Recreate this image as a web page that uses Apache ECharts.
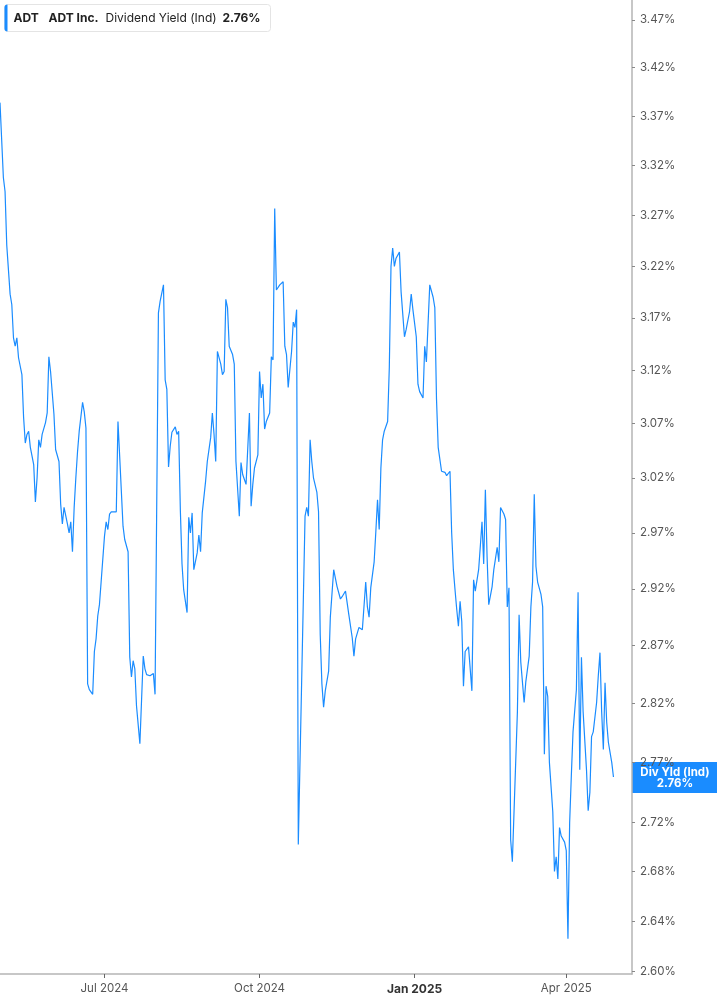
<!DOCTYPE html>
<html>
<head>
<meta charset="utf-8">
<script src="https://cdn.jsdelivr.net/npm/echarts@6/dist/echarts.min.js"></script>
<style>
  html, body { margin: 0; padding: 0; background: #fff; }
  #chart-container { width: 717px; height: 1005px; }
</style>
</head>
<body>
<div id="chart-container"></div>
<script>
// ADT Inc. indicated dividend yield (%)
const dates = [
  '2024-04-30','2024-05-01','2024-05-02','2024-05-03','2024-05-04','2024-05-06','2024-05-07','2024-05-08','2024-05-09','2024-05-10',
  '2024-05-11','2024-05-13','2024-05-14','2024-05-15','2024-05-16','2024-05-17','2024-05-18','2024-05-20','2024-05-21','2024-05-22',
  '2024-05-23','2024-05-24','2024-05-25','2024-05-27','2024-05-28','2024-05-29','2024-05-30','2024-06-01','2024-06-02','2024-06-04',
  '2024-06-05','2024-06-06','2024-06-07','2024-06-09','2024-06-10','2024-06-11','2024-06-12','2024-06-13','2024-06-14','2024-06-15',
  '2024-06-16','2024-06-18','2024-06-19','2024-06-20','2024-06-21','2024-06-22','2024-06-24','2024-06-25','2024-06-26','2024-06-27',
  '2024-06-28','2024-06-29','2024-07-01','2024-07-02','2024-07-03','2024-07-04','2024-07-05','2024-07-08','2024-07-09','2024-07-10',
  '2024-07-12','2024-07-13','2024-07-15','2024-07-16','2024-07-17','2024-07-18','2024-07-19','2024-07-20','2024-07-22','2024-07-24',
  '2024-07-25','2024-07-26','2024-07-28','2024-07-29','2024-07-30','2024-07-31','2024-08-02','2024-08-03','2024-08-05','2024-08-06',
  '2024-08-07','2024-08-08','2024-08-09','2024-08-10','2024-08-12','2024-08-13','2024-08-14','2024-08-15','2024-08-16','2024-08-17',
  '2024-08-19','2024-08-20','2024-08-21','2024-08-22','2024-08-23','2024-08-25','2024-08-26','2024-08-27','2024-08-28','2024-08-29',
  '2024-08-30','2024-08-31','2024-09-02','2024-09-03','2024-09-04','2024-09-05','2024-09-06','2024-09-08','2024-09-09','2024-09-10',
  '2024-09-11','2024-09-12','2024-09-13','2024-09-15','2024-09-16','2024-09-17','2024-09-19','2024-09-20','2024-09-21','2024-09-23',
  '2024-09-25','2024-09-26','2024-09-27','2024-09-28','2024-09-30','2024-10-01','2024-10-02','2024-10-03','2024-10-04','2024-10-05',
  '2024-10-07','2024-10-08','2024-10-09','2024-10-10','2024-10-11','2024-10-13','2024-10-15','2024-10-16','2024-10-17','2024-10-18',
  '2024-10-20','2024-10-21','2024-10-22','2024-10-23','2024-10-24','2024-10-28','2024-10-29','2024-10-30','2024-10-31','2024-11-01',
  '2024-11-02','2024-11-04','2024-11-05','2024-11-06','2024-11-07','2024-11-08','2024-11-09','2024-11-11','2024-11-12','2024-11-13',
  '2024-11-14','2024-11-15','2024-11-16','2024-11-18','2024-11-19','2024-11-20','2024-11-21','2024-11-22','2024-11-23','2024-11-25',
  '2024-11-26','2024-11-27','2024-11-29','2024-12-01','2024-12-02','2024-12-03','2024-12-04','2024-12-05','2024-12-06','2024-12-08',
  '2024-12-09','2024-12-10','2024-12-11','2024-12-12','2024-12-13','2024-12-14','2024-12-16','2024-12-17','2024-12-18','2024-12-19',
  '2024-12-20','2024-12-21','2024-12-23','2024-12-24','2024-12-26','2024-12-27','2024-12-29','2024-12-30','2024-12-31','2025-01-02',
  '2025-01-03','2025-01-04','2025-01-06','2025-01-07','2025-01-08','2025-01-10','2025-01-12','2025-01-13','2025-01-14','2025-01-15',
  '2025-01-16','2025-01-17','2025-01-19','2025-01-20','2025-01-21','2025-01-22','2025-01-23','2025-01-24','2025-01-25','2025-01-26',
  '2025-01-27','2025-01-28','2025-01-29','2025-01-30','2025-01-31','2025-02-02','2025-02-03','2025-02-04','2025-02-05','2025-02-06',
  '2025-02-07','2025-02-08','2025-02-09','2025-02-10','2025-02-11','2025-02-12','2025-02-13','2025-02-14','2025-02-16','2025-02-17',
  '2025-02-19','2025-02-20','2025-02-21','2025-02-23','2025-02-24','2025-02-25','2025-02-26','2025-02-27','2025-02-28','2025-03-01',
  '2025-03-03','2025-03-04','2025-03-05','2025-03-06','2025-03-07','2025-03-08','2025-03-10','2025-03-11','2025-03-12','2025-03-13',
  '2025-03-14','2025-03-15','2025-03-17','2025-03-18','2025-03-19','2025-03-20','2025-03-21','2025-03-22','2025-03-24','2025-03-25',
  '2025-03-26','2025-03-27','2025-03-28','2025-03-29','2025-03-31','2025-04-01','2025-04-02','2025-04-03','2025-04-04','2025-04-05',
  '2025-04-07','2025-04-08','2025-04-09','2025-04-10','2025-04-11','2025-04-13','2025-04-14','2025-04-15','2025-04-16','2025-04-17',
  '2025-04-19','2025-04-20','2025-04-21','2025-04-22','2025-04-23','2025-04-24','2025-04-25','2025-04-26','2025-04-28','2025-04-29'
];

const yields = [
  3.384, 3.384, 3.308, 3.294, 3.241, 3.193, 3.183, 3.151, 3.143, 3.151,
  3.132, 3.116, 3.076, 3.052, 3.060, 3.063, 3.048, 3.032, 2.998, 3.020,
  3.055, 3.048, 3.060, 3.071, 3.080, 3.133, 3.119, 3.079, 3.046, 3.035,
  2.996, 2.978, 2.993, 2.978, 2.970, 2.980, 2.953, 2.993, 3.020, 3.044,
  3.063, 3.090, 3.081, 3.066, 2.837, 2.832, 2.828, 2.865, 2.876, 2.896,
  2.906, 2.926, 2.967, 2.980, 2.973, 2.987, 2.989, 2.989, 3.072, 3.040,
  2.976, 2.964, 2.953, 2.860, 2.843, 2.857, 2.850, 2.818, 2.786, 2.861,
  2.850, 2.845, 2.844, 2.843, 2.846, 2.828, 3.175, 3.186, 3.202, 3.111,
  3.102, 3.030, 3.049, 3.062, 3.067, 3.060, 3.063, 2.991, 2.942, 2.919,
  2.899, 2.984, 2.970, 2.988, 2.937, 2.952, 2.968, 2.953, 2.988, 2.989,
  3.017, 3.035, 3.057, 3.080, 3.060, 3.035, 3.138, 3.126, 3.116, 3.119,
  3.188, 3.180, 3.143, 3.135, 3.126, 3.035, 2.985, 3.034, 3.023, 3.014,
  3.080, 2.994, 3.014, 3.029, 3.041, 3.119, 3.094, 3.107, 3.065, 3.072,
  3.080, 3.133, 3.130, 3.277, 3.197, 3.202, 3.205, 3.143, 3.135, 3.104,
  3.138, 3.166, 3.161, 3.178, 2.702, 2.985, 2.993, 2.985, 3.055, 3.035,
  3.020, 3.007, 2.989, 2.880, 2.837, 2.817, 2.831, 2.848, 2.895, 2.895,
  2.937, 2.937, 2.922, 2.911, 2.913, 2.913, 2.918, 2.918, 2.897, 2.877,
  2.861, 2.876, 2.886, 2.884, 2.883, 2.926, 2.904, 2.895, 2.921, 2.944,
  2.971, 3.000, 2.973, 3.029, 3.055, 3.063, 3.072, 3.123, 3.220, 3.238,
  3.220, 3.228, 3.234, 3.195, 3.152, 3.159, 3.176, 3.193, 3.178, 3.152,
  3.107, 3.100, 3.094, 3.143, 3.128, 3.202, 3.190, 3.180, 3.093, 3.048,
  3.047, 3.026, 3.025, 3.022, 3.022, 3.026, 2.970, 2.937, 2.919, 2.902,
  2.887, 2.909, 2.891, 2.835, 2.865, 2.869, 2.869, 2.831, 2.928, 2.918,
  2.918, 2.937, 2.958, 2.980, 2.942, 3.009, 2.949, 2.906, 2.922, 2.937,
  2.957, 2.944, 2.993, 2.987, 2.982, 2.904, 2.921, 2.706, 2.688, 2.729,
  2.813, 2.897, 2.856, 2.856, 2.821, 2.839, 2.861, 2.904, 2.926, 3.005,
  2.940, 2.926, 2.915, 2.904, 2.777, 2.835, 2.826, 2.770, 2.729, 2.680,
  2.692, 2.674, 2.716, 2.709, 2.704, 2.697, 2.626, 2.720, 2.759, 2.796,
  2.832, 2.917, 2.764, 2.860, 2.813, 2.764, 2.730, 2.745, 2.792, 2.796,
  2.821, 2.844, 2.864, 2.813, 2.781, 2.838, 2.804, 2.787, 2.770, 2.758
];

// log-spaced tick labels on the right axis
const yTicks = [2.60, 2.64, 2.68, 2.72, 2.77, 2.82, 2.87, 2.92, 2.97, 3.02,
  3.07, 3.12, 3.17, 3.22, 3.27, 3.32, 3.37, 3.42, 3.47];
const xTicks = ['2024-07-01', '2024-10-01', '2025-01-01', '2025-04-01'];
const monthNames = ['Jan', 'Feb', 'Mar', 'Apr', 'May', 'Jun', 'Jul', 'Aug', 'Sep', 'Oct', 'Nov', 'Dec'];

const yMin = 2.598;
const yMax = 3.491;
const lastYield = yields[yields.length - 1];
const blue = '#1a8cff';
const fontFamily = 'Inter, "Noto Sans", sans-serif';

const dom = document.getElementById('chart-container');
const myChart = echarts.init(dom, null, { renderer: 'canvas' });

const toTs = (d) => new Date(d + 'T00:00:00').getTime();

const option = {
  animation: false,
  textStyle: { fontFamily: fontFamily },
  grid: { left: 0, right: 85, top: 0, bottom: 31, containLabel: false },
  xAxis: {
    // dates as timestamps on a plain value axis so the quarter ticks can be set
    type: 'value',
    min: toTs('2024-04-30'),
    max: toTs('2025-05-10'),
    axisLine: { show: true, lineStyle: { color: '#b5b5b5', width: 1.5 } },
    axisTick: {
      show: true,
      length: 4,
      customValues: xTicks.map(toTs),
      lineStyle: { color: '#666' },
    },
    axisLabel: {
      customValues: xTicks.map(toTs),
      margin: 9,
      fontSize: 11.5,
      color: '#555',
      formatter: (value) => {
        const d = new Date(value);
        const text = monthNames[d.getMonth()] + ' ' + d.getFullYear();
        return d.getMonth() === 0 ? '{b|' + text + '}' : text;
      },
      rich: {
        b: { fontWeight: 'bold', fontSize: 12, color: '#333', fontFamily: fontFamily },
      },
    },
    splitLine: { show: false },
  },
  yAxis: {
    type: 'value',
    position: 'right',
    min: Math.log(yMin),
    max: Math.log(yMax),
    axisLine: { show: true, lineStyle: { color: '#b5b5b5', width: 1.5 } },
    axisTick: {
      show: true,
      length: 3,
      customValues: yTicks.map(Math.log),
      lineStyle: { color: '#888' },
    },
    axisLabel: {
      customValues: yTicks.map(Math.log),
      margin: 8,
      fontSize: 11.5,
      color: '#555',
      formatter: (v) => Math.exp(v).toFixed(2) + '%',
    },
    splitLine: { show: false },
  },
  series: [
    {
      name: 'Dividend Yield (Ind)',
      type: 'line',
      showSymbol: false,
      symbol: 'none',
      lineStyle: { color: blue, width: 1.2 },
      data: dates.map((d, i) => [toTs(d), Math.log(yields[i])]),
    },
  ],
};

myChart.setOption(option);

// legend box (top left) and the value tag on the right axis
const tagY = myChart.convertToPixel({ yAxisIndex: 0 }, Math.log(lastYield));
myChart.setOption({
  graphic: [
    {
      type: 'group',
      left: 4,
      top: 4,
      z: 100,
      children: [
        { type: 'rect', shape: { x: 0, y: 0, width: 266, height: 27, r: 3 },
          style: { fill: '#fff', stroke: '#e4e4e4', lineWidth: 1 } },
        { type: 'rect', shape: { x: 0, y: 0, width: 3, height: 27, r: [3, 0, 0, 3] },
          style: { fill: blue } },
        { type: 'text', x: 9, y: 13.5,
          style: { text: 'ADT', fontWeight: 'bold', fontSize: 12, fill: '#222', verticalAlign: 'middle', fontFamily: fontFamily } },
        { type: 'text', x: 44, y: 13.5,
          style: { text: 'ADT Inc.', fontWeight: 'bold', fontSize: 12, fill: '#222', verticalAlign: 'middle', fontFamily: fontFamily } },
        { type: 'text', x: 101, y: 13.5,
          style: { text: 'Dividend Yield (Ind)', fontSize: 12, fill: '#222', verticalAlign: 'middle', fontFamily: fontFamily } },
        { type: 'text', x: 218, y: 13.5,
          style: { text: lastYield.toFixed(2) + '%', fontWeight: 'bold', fontSize: 12, fill: '#222', verticalAlign: 'middle', fontFamily: fontFamily } },
      ],
    },
    {
      type: 'group',
      x: 632,
      y: tagY - 15,
      z: 100,
      children: [
        { type: 'rect', shape: { x: 0, y: 0, width: 85, height: 31 }, style: { fill: blue } },
        { type: 'text', x: 43, y: 10.5,
          style: { text: 'Div Yld (Ind)', fontWeight: 'bold', fontSize: 11.5, fill: '#fff', align: 'center', verticalAlign: 'middle', fontFamily: fontFamily } },
        { type: 'text', x: 43, y: 21.5,
          style: { text: lastYield.toFixed(2) + '%', fontWeight: 'bold', fontSize: 11.5, fill: '#fff', align: 'center', verticalAlign: 'middle', fontFamily: fontFamily } },
      ],
    },
  ],
});

window.addEventListener('resize', myChart.resize);
</script>
</body>
</html>
